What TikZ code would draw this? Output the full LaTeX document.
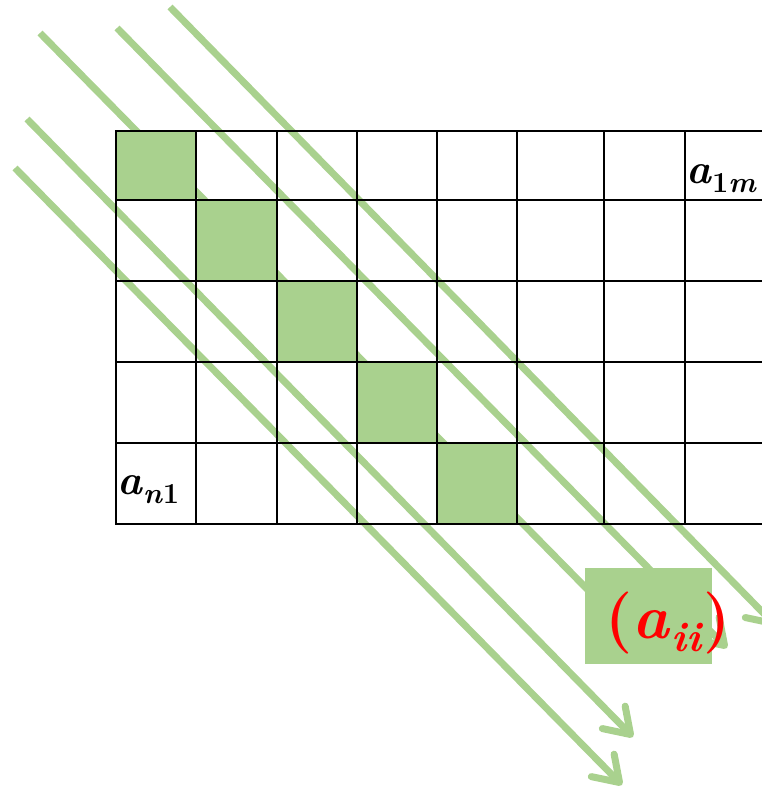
\documentclass[tikz,border=0pt]{standalone}
\usepackage{fontspec}
\usetikzlibrary{arrows.meta}
\definecolor{lgreen}{HTML}{A9D18E}
\definecolor{lred}{HTML}{FF0000}
\newcommand{\bsub}[2]{\raisebox{-0.22em}{\fontsize{#1}{#1}\selectfont #2}}
\begin{document}
\begin{tikzpicture}[x=1pt,y=-1pt,
  diag/.style={draw=lgreen, line width=7pt, -{Straight Barb[length=24pt,width=32pt,round]}},
  gridline/.style={line width=2.2pt, black, line cap=rect},
  lab/.style={font=\fontsize{42}{46}\selectfont\bfseries, inner sep=0pt},
  bigbox/.style={fill=lgreen, draw=none, inner sep=0pt, minimum width=127pt, minimum height=96pt}
]
\useasboundingbox (0,0) rectangle (762,789);
\begin{scope}
\clip (0,0) rectangle (762,789);
% diagonal arrows
\coordinate (s1) at (15,168);  \coordinate (e1) at (622,785);
\coordinate (s2) at (27,119);  \coordinate (e2) at (633,737);
\coordinate (s3) at (40,33);   \coordinate (e3) at (650,653);
\coordinate (s4) at (117,28);  \coordinate (e4) at (727,648);
\coordinate (s5) at (170,7);   \coordinate (e5) at (776,626);
\foreach \i in {1,...,5} \draw[diag] (s\i) -- (e\i);
% green diagonal cells
\fill[lgreen] (116,131) rectangle (196,200);
\fill[lgreen] (196,200) rectangle (277,281);
\fill[lgreen] (277,281) rectangle (357,362);
\fill[lgreen] (357,362) rectangle (437,443);
\fill[lgreen] (437,443) rectangle (517,524);
% grid
\foreach \x in {116,196,277,357,437,517,604,685} \draw[gridline] (\x,131) -- (\x,524);
\foreach \y in {131,200,281,362,443,524} \draw[gridline] (116,\y) -- (770,\y);
% labels
\node[lab, anchor=base west] (a1m) at (686,183) {\textit{a}\bsub{29}{1\textit{m}}};
\node[lab, anchor=base west] (an1) at (117,494) {\textit{a}\bsub{29}{\textit{n}1}};
% label box
\node[bigbox, anchor=north west] (box) at (585,568) {};
\node[inner sep=0pt, anchor=base, text=lred, font=\fontsize{62}{68}\selectfont\bfseries] (aii) at (668,638) {(\textit{a}\bsub{42}{\textit{ii}})};
\end{scope}
\end{tikzpicture}
\end{document}
